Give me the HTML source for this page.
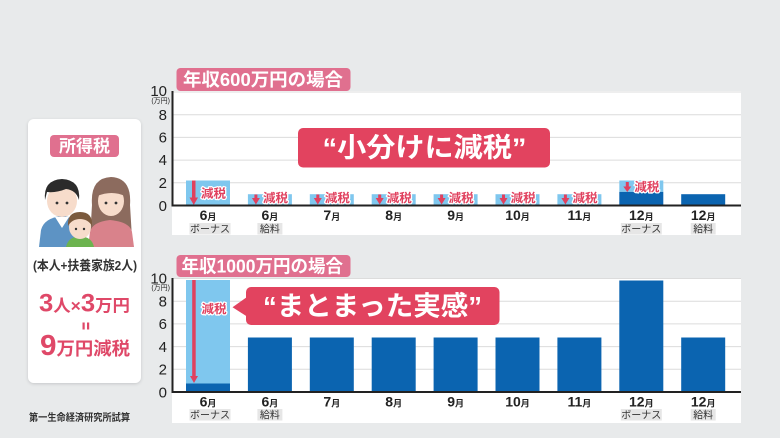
<!DOCTYPE html>
<html><head><meta charset="utf-8">
<style>
html,body{margin:0;padding:0;background:#e8eaeb;}
svg{display:block;}
text{font-family:"Liberation Sans","Noto Sans CJK JP",sans-serif;}
</style></head>
<body>
<svg width="780" height="438" viewBox="0 0 780 438" xmlns="http://www.w3.org/2000/svg">
<defs>
<filter id="sh" x="-10%" y="-10%" width="120%" height="120%"><feDropShadow dx="0" dy="1" stdDeviation="1.5" flood-color="#000" flood-opacity="0.15"/></filter>
</defs>
<rect width="780" height="438" fill="#e8eaeb"/>

<!-- Left card -->
<rect x="28" y="119" width="113" height="264" rx="6" fill="#fff" filter="url(#sh)"/>
<rect x="50" y="135" width="69" height="22" rx="4" fill="#e0708f"/>
<text x="84.5" y="152" text-anchor="middle" font-size="17" font-weight="bold" fill="#fff">所得税</text>

<!-- illustration -->
<g>
 <!-- woman hair back -->
 <path d="M92,205 Q90,178 111,177 Q132,178 130,205 L132,238 L90,238 Z" fill="#8c6b5e"/>
 <!-- woman body -->
 <path d="M88,247 L90,232 Q92,222 110,220 Q130,222 132,232 L134,247 Z" fill="#d9828b"/>
 <!-- woman face -->
 <ellipse cx="111" cy="201" rx="13" ry="15" fill="#f7dccb"/>
 <path d="M97,196 Q99,180 111,180 Q124,181 125,196 Q112,190 97,196Z" fill="#8c6b5e"/>
 <circle cx="106" cy="203" r="1.4" fill="#333"/><circle cx="116" cy="203" r="1.4" fill="#333"/>
 <!-- man body -->
 <path d="M39,247 L41,230 Q44,218 62,216 Q80,218 83,230 L85,247 Z" fill="#5d93c4"/>
 <path d="M55,217 L62,228 L69,217 Z" fill="#fff"/>
 <!-- man head -->
 <ellipse cx="62" cy="201" rx="15" ry="16" fill="#f7dccb"/>
 <path d="M45,200 Q43,180 62,179 Q81,180 79,200 Q76,190 66,189 Q56,193 47,192 Z" fill="#2b2b2b"/>
 <circle cx="57" cy="203" r="1.4" fill="#333"/><circle cx="67" cy="203" r="1.4" fill="#333"/>
 <!-- child -->
 <path d="M66,247 Q68,237 80,236 Q92,237 94,247 Z" fill="#6cb34f"/>
 <ellipse cx="80" cy="227" rx="11" ry="12" fill="#f7dccb"/>
 <path d="M68,226 Q67,212 80,212 Q93,212 92,226 Q88,219 80,219 Q72,219 68,226Z" fill="#7b5a3d"/>
 <circle cx="76" cy="229" r="1.2" fill="#333"/><circle cx="84" cy="229" r="1.2" fill="#333"/>
</g>

<text x="85" y="270" text-anchor="middle" font-size="13" font-weight="bold" fill="#333" textLength="104" lengthAdjust="spacingAndGlyphs">(本人+扶養家族2人)</text>
<text x="39" y="311.5" font-weight="bold" fill="#df4868" textLength="91" lengthAdjust="spacingAndGlyphs"><tspan font-size="25">3</tspan><tspan font-size="17">人×</tspan><tspan font-size="25">3</tspan><tspan font-size="17">万円</tspan></text>
<rect x="82.5" y="322.5" width="2.2" height="7" fill="#df4868"/>
<rect x="87" y="322.5" width="2.2" height="7" fill="#df4868"/>
<text x="40" y="355" font-weight="bold" fill="#df4868" textLength="90" lengthAdjust="spacingAndGlyphs"><tspan font-size="29">9</tspan><tspan font-size="18">万円減税</tspan></text>

<text x="29" y="421" font-size="10" font-weight="bold" fill="#333" textLength="101" lengthAdjust="spacingAndGlyphs">第一生命経済研究所試算</text>

<!-- ===== TOP CHART ===== -->
<rect x="172" y="91" width="569" height="144" fill="#fff"/>
<g stroke="#dcdcdc" stroke-width="1">
 <line x1="173" y1="92" x2="741" y2="92"/>
 <line x1="173" y1="114.7" x2="741" y2="114.7"/>
 <line x1="173" y1="137.4" x2="741" y2="137.4"/>
 <line x1="173" y1="160.1" x2="741" y2="160.1"/>
 <line x1="173" y1="182.8" x2="741" y2="182.8"/>
</g>
<g font-size="15" fill="#222" text-anchor="end">
 <text x="167" y="96">10</text>
 <text x="167" y="120">8</text>
 <text x="167" y="142.5">6</text>
 <text x="167" y="165.2">4</text>
 <text x="167" y="188">2</text>
 <text x="167" y="211">0</text>
</g>
<text x="170" y="103" font-size="7" fill="#222" text-anchor="end">(万円)</text>

<!-- bars top -->
<g fill="#7fc7ee">
 <rect x="186" y="180.5" width="44" height="25"/>
 <rect x="247.9" y="194.2" width="44" height="11.3"/>
 <rect x="309.8" y="194.2" width="44" height="11.3"/>
 <rect x="371.7" y="194.2" width="44" height="11.3"/>
 <rect x="433.6" y="194.2" width="44" height="11.3"/>
 <rect x="495.5" y="194.2" width="44" height="11.3"/>
 <rect x="557.4" y="194.2" width="44" height="11.3"/>
 <rect x="619.3" y="180.5" width="44" height="11.4"/>
</g>
<g fill="#0b64b0">
 <rect x="619.3" y="191.9" width="44" height="13.6"/>
 <rect x="681.2" y="194.2" width="44" height="11.3"/>
</g>
<!-- arrows top -->
<g fill="#e0405e">
 <rect x="192" y="180.5" width="3.5" height="18"/>
 <path d="M189.5,197.5 L198,197.5 L193.75,205 Z"/>
 <g id="sa">
  <rect x="254.4" y="194.5" width="3" height="4"/>
  <path d="M251.9,198 L259.9,198 L255.9,204.5 Z"/>
 </g>
 <use href="#sa" x="61.9"/>
 <use href="#sa" x="123.8"/>
 <use href="#sa" x="185.7"/>
 <use href="#sa" x="247.6"/>
 <use href="#sa" x="309.5"/>
 <g transform="translate(371.4,-10)"><rect x="254.4" y="192" width="3" height="5"/><path d="M251.9,196.5 L259.9,196.5 L255.9,202 Z"/></g>
</g>
<g font-size="12" font-weight="bold" fill="#e0405e" stroke="#fff" stroke-width="2.5" paint-order="stroke" stroke-linejoin="round">
 <text x="201" y="197.5" textLength="25" lengthAdjust="spacingAndGlyphs">減税</text>
 <text x="263" y="202" textLength="25" lengthAdjust="spacingAndGlyphs">減税</text>
 <text x="324.9" y="202" textLength="25" lengthAdjust="spacingAndGlyphs">減税</text>
 <text x="386.8" y="202" textLength="25" lengthAdjust="spacingAndGlyphs">減税</text>
 <text x="448.7" y="202" textLength="25" lengthAdjust="spacingAndGlyphs">減税</text>
 <text x="510.6" y="202" textLength="25" lengthAdjust="spacingAndGlyphs">減税</text>
 <text x="572.5" y="202" textLength="25" lengthAdjust="spacingAndGlyphs">減税</text>
 <text x="634.4" y="191" textLength="25" lengthAdjust="spacingAndGlyphs">減税</text>
</g>
<!-- axes top -->
<rect x="171.5" y="91" width="2" height="115.5" fill="#222"/>
<rect x="171.5" y="204.5" width="569.5" height="2" fill="#222"/>

<!-- x labels top -->
<g font-weight="bold" fill="#222" text-anchor="middle">
 <text x="208" y="220"><tspan font-size="14">6</tspan><tspan font-size="9">月</tspan></text>
 <text x="269.9" y="220"><tspan font-size="14">6</tspan><tspan font-size="9">月</tspan></text>
 <text x="331.8" y="220"><tspan font-size="14">7</tspan><tspan font-size="9">月</tspan></text>
 <text x="393.7" y="220"><tspan font-size="14">8</tspan><tspan font-size="9">月</tspan></text>
 <text x="455.6" y="220"><tspan font-size="14">9</tspan><tspan font-size="9">月</tspan></text>
 <text x="517.5" y="220"><tspan font-size="14">10</tspan><tspan font-size="9">月</tspan></text>
 <text x="579.4" y="220"><tspan font-size="14">11</tspan><tspan font-size="9">月</tspan></text>
 <text x="641.3" y="220"><tspan font-size="14">12</tspan><tspan font-size="9">月</tspan></text>
 <text x="703.2" y="220"><tspan font-size="14">12</tspan><tspan font-size="9">月</tspan></text>
</g>
<g fill="#e6e6e6">
 <rect x="189.5" y="223" width="41" height="11.5"/>
 <rect x="257.4" y="223" width="25" height="11.5"/>
 <rect x="620.8" y="223" width="41" height="11.5"/>
 <rect x="690.7" y="223" width="25" height="11.5"/>
</g>
<g font-size="10" fill="#333" text-anchor="middle">
 <text x="210" y="232.5">ボーナス</text>
 <text x="269.9" y="232.5">給料</text>
 <text x="641.3" y="232.5">ボーナス</text>
 <text x="703.2" y="232.5">給料</text>
</g>

<!-- top title -->
<rect x="176.5" y="68" width="174" height="23" rx="4" fill="#e0708f"/>
<text x="183" y="86" font-size="18" font-weight="bold" fill="#fff" textLength="160" lengthAdjust="spacingAndGlyphs">年収600万円の場合</text>

<!-- callout 1 -->
<rect x="298" y="128" width="252" height="39.5" rx="5" fill="#e2435f"/>
<text x="322.5" y="157" font-size="27" font-weight="bold" fill="#fff" textLength="204" lengthAdjust="spacingAndGlyphs">“小分けに減税”</text>

<!-- ===== BOTTOM CHART ===== -->
<rect x="172" y="278" width="569" height="145" fill="#fff"/>
<g stroke="#dcdcdc" stroke-width="1">
 <line x1="173" y1="278.5" x2="741" y2="278.5"/>
 <line x1="173" y1="301.2" x2="741" y2="301.2"/>
 <line x1="173" y1="323.9" x2="741" y2="323.9"/>
 <line x1="173" y1="346.6" x2="741" y2="346.6"/>
 <line x1="173" y1="369.3" x2="741" y2="369.3"/>
</g>
<g font-size="15" fill="#222" text-anchor="end">
 <text x="167" y="283.3">10</text>
 <text x="167" y="306.5">8</text>
 <text x="167" y="329.2">6</text>
 <text x="167" y="351.9">4</text>
 <text x="167" y="374.6">2</text>
 <text x="167" y="397.5">0</text>
</g>
<text x="170" y="290" font-size="7" fill="#222" text-anchor="end">(万円)</text>

<rect x="186" y="280" width="44" height="112" fill="#7fc7ee"/>
<g fill="#0b64b0">
 <rect x="186" y="383.5" width="44" height="8.5"/>
 <rect x="247.9" y="337.5" width="44" height="54.5"/>
 <rect x="309.8" y="337.5" width="44" height="54.5"/>
 <rect x="371.7" y="337.5" width="44" height="54.5"/>
 <rect x="433.6" y="337.5" width="44" height="54.5"/>
 <rect x="495.5" y="337.5" width="44" height="54.5"/>
 <rect x="557.4" y="337.5" width="44" height="54.5"/>
 <rect x="619.3" y="280.5" width="44" height="111.5"/>
 <rect x="681.2" y="337.5" width="44" height="54.5"/>
</g>
<g fill="#e0405e">
 <rect x="192.2" y="280" width="3.5" height="97"/>
 <path d="M190,376 L198,376 L194,383 Z"/>
</g>
<text x="201.5" y="313" font-size="12" font-weight="bold" fill="#e0405e" stroke="#fff" stroke-width="2.5" paint-order="stroke" stroke-linejoin="round" textLength="25" lengthAdjust="spacingAndGlyphs">減税</text>

<rect x="171.5" y="278" width="2" height="115" fill="#222"/>
<rect x="171.5" y="391" width="569.5" height="2" fill="#222"/>

<g font-weight="bold" fill="#222" text-anchor="middle">
 <text x="208" y="406.5"><tspan font-size="14">6</tspan><tspan font-size="9">月</tspan></text>
 <text x="269.9" y="406.5"><tspan font-size="14">6</tspan><tspan font-size="9">月</tspan></text>
 <text x="331.8" y="406.5"><tspan font-size="14">7</tspan><tspan font-size="9">月</tspan></text>
 <text x="393.7" y="406.5"><tspan font-size="14">8</tspan><tspan font-size="9">月</tspan></text>
 <text x="455.6" y="406.5"><tspan font-size="14">9</tspan><tspan font-size="9">月</tspan></text>
 <text x="517.5" y="406.5"><tspan font-size="14">10</tspan><tspan font-size="9">月</tspan></text>
 <text x="579.4" y="406.5"><tspan font-size="14">11</tspan><tspan font-size="9">月</tspan></text>
 <text x="641.3" y="406.5"><tspan font-size="14">12</tspan><tspan font-size="9">月</tspan></text>
 <text x="703.2" y="406.5"><tspan font-size="14">12</tspan><tspan font-size="9">月</tspan></text>
</g>
<g fill="#e6e6e6">
 <rect x="189.5" y="409" width="41" height="11.5"/>
 <rect x="257.4" y="409" width="25" height="11.5"/>
 <rect x="620.8" y="409" width="41" height="11.5"/>
 <rect x="690.7" y="409" width="25" height="11.5"/>
</g>
<g font-size="10" fill="#333" text-anchor="middle">
 <text x="210" y="418.5">ボーナス</text>
 <text x="269.9" y="418.5">給料</text>
 <text x="641.3" y="418.5">ボーナス</text>
 <text x="703.2" y="418.5">給料</text>
</g>

<rect x="176.5" y="255" width="174" height="22" rx="4" fill="#e0708f"/>
<text x="181.5" y="272.5" font-size="18" font-weight="bold" fill="#fff" textLength="161.5" lengthAdjust="spacingAndGlyphs">年収1000万円の場合</text>

<!-- callout 2 -->
<path d="M247,297 L232.5,307.3 L247,316.5 Z" fill="#e2435f"/>
<rect x="246" y="287" width="253.5" height="38" rx="5" fill="#e2435f"/>
<text x="263" y="315.5" font-size="27" font-weight="bold" fill="#fff" textLength="219" lengthAdjust="spacingAndGlyphs">“まとまった実感”</text>
</svg>
</body></html>
